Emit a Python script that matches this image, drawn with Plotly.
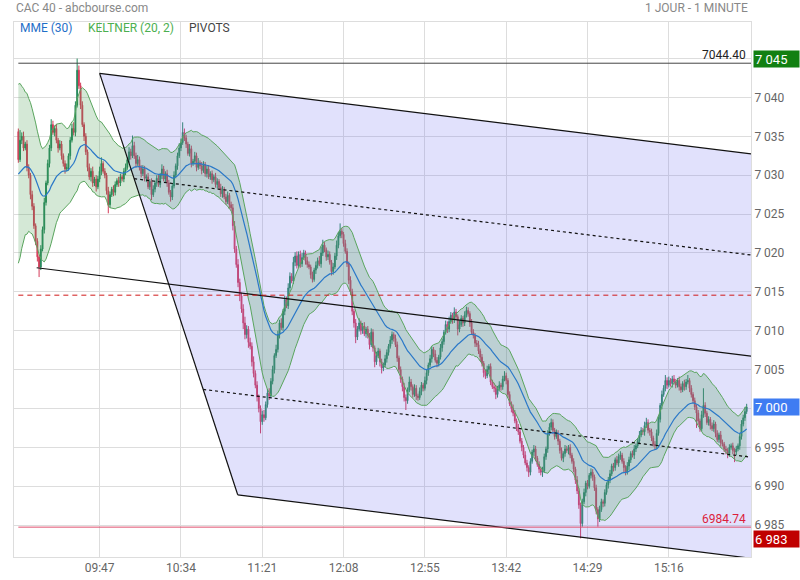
import plotly.graph_objects as go

# ---------------- data ----------------
session_start = "09:00"
first_open = 7035.6
closes = [
    7032.0, 7034.5, 7035.0, 7033.5, 7034.0, 7031.0, 7030.0, 7027.5, 7026.0, 7023.5,
    7021.5, 7019.5, 7018.2, 7020.5, 7023.0, 7026.5, 7029.0, 7031.5, 7033.5, 7036.5,
    7035.5, 7036.0, 7034.5, 7033.5, 7034.0, 7032.5, 7031.5, 7030.8, 7031.0, 7032.5,
    7034.5, 7036.0, 7035.5, 7039.0, 7043.5, 7041.5, 7039.0, 7036.5, 7035.0, 7033.0,
    7031.0, 7029.8, 7030.5, 7029.0, 7029.5, 7028.5, 7029.5, 7030.5, 7031.5, 7030.5,
    7030.0, 7028.0, 7026.2, 7027.5, 7028.2, 7027.8, 7028.8, 7029.3, 7029.0, 7029.8,
    7029.5, 7030.5, 7031.0, 7032.0, 7033.0, 7032.5, 7033.8, 7032.5, 7031.5, 7032.0,
    7031.0, 7030.2, 7030.8, 7029.6, 7029.8, 7028.5, 7029.2, 7027.5, 7028.2, 7029.0,
    7029.6, 7028.8, 7030.0, 7030.8, 7029.5, 7030.2, 7029.0, 7027.8, 7027.2, 7028.6,
    7030.0, 7031.2, 7032.5, 7033.5, 7034.2, 7035.5, 7034.8, 7034.0, 7032.8, 7033.4,
    7031.5, 7031.8, 7032.5, 7031.0, 7031.6, 7031.2, 7030.6, 7031.4, 7030.2, 7030.8,
    7029.8, 7030.2, 7029.4, 7029.8, 7028.8, 7029.2, 7028.4, 7027.6, 7028.2, 7027.2,
    7026.6, 7027.4, 7026.2, 7025.8, 7023.5, 7020.5, 7018.5, 7016.2, 7014.5, 7012.8,
    7011.0, 7009.5, 7010.2, 7008.5, 7008.0, 7006.0, 7004.5, 7003.0, 7001.5, 7000.0,
    6998.3, 6999.2, 6998.8, 7000.5, 7002.0, 7001.6, 7003.5, 7005.0, 7006.8, 7007.6,
    7009.5, 7011.0, 7010.4, 7012.5, 7014.0, 7013.2, 7015.5, 7017.0, 7016.4, 7018.8,
    7019.6, 7018.4, 7019.8, 7018.6, 7019.4, 7020.0, 7019.0, 7018.5, 7018.2, 7017.2,
    7016.6, 7017.8, 7018.4, 7019.0, 7018.6, 7020.0, 7021.0, 7020.4, 7019.5, 7019.8,
    7018.8, 7017.6, 7018.2, 7019.6, 7021.0, 7022.2, 7022.8, 7022.4, 7021.2, 7020.2,
    7018.6, 7016.5, 7015.0, 7012.5, 7011.0, 7009.2, 7010.2, 7011.0, 7010.0, 7010.6,
    7009.6, 7010.2, 7009.4, 7008.2, 7009.8, 7007.8, 7006.0, 7006.8, 7007.4, 7006.0,
    7005.2, 7005.6, 7006.4, 7007.2, 7008.0, 7008.8, 7009.5, 7009.0, 7008.2, 7006.5,
    7005.0, 7003.8, 7002.8, 7001.4, 7001.0, 7002.4, 7003.4, 7002.8, 7001.8, 7002.6,
    7001.6, 7001.4, 7002.2, 7003.0, 7002.6, 7003.6, 7004.6, 7005.6, 7006.4, 7007.6,
    7007.0, 7006.2, 7005.8, 7006.6, 7007.8, 7008.6, 7009.8, 7010.8, 7010.2, 7011.2,
    7012.0, 7011.4, 7012.4, 7011.8, 7010.2, 7010.8, 7011.6, 7011.0, 7012.0, 7012.6,
    7012.2, 7011.0, 7009.8, 7009.4, 7008.4, 7008.2, 7007.4, 7006.6, 7005.8, 7004.6,
    7004.2, 7005.0, 7005.4, 7003.4, 7002.8, 7002.6, 7001.8, 7002.6, 7003.0, 7002.8,
    7003.8, 7004.2, 7003.6, 7001.8, 7000.6, 7000.0, 6999.4, 6998.4, 6997.6, 6997.0,
    6995.8, 6995.0, 6994.0, 6993.0, 6992.4, 6991.8, 6993.2, 6994.4, 6994.8, 6993.6,
    6992.8, 6992.2, 6991.8, 6992.0, 6993.8, 6994.8, 6996.8, 6997.6, 6998.2, 6997.2,
    6996.4, 6996.8, 6995.8, 6994.6, 6993.6, 6994.2, 6994.8, 6994.6, 6995.0, 6994.0,
    6993.2, 6992.2, 6990.8, 6989.4, 6987.6, 6985.2, 6988.0, 6989.2, 6990.4, 6990.0,
    6991.4, 6991.8, 6991.2, 6989.8, 6987.0, 6985.8, 6987.0, 6988.0, 6987.8, 6989.2,
    6990.2, 6990.8, 6991.6, 6992.6, 6992.4, 6993.4, 6993.0, 6993.8, 6994.0, 6993.2,
    6992.4, 6991.8, 6992.6, 6993.4, 6994.2, 6994.0, 6994.8, 6995.2, 6995.8, 6996.6,
    6997.2, 6997.0, 6997.8, 6998.2, 6997.2, 6997.0, 6996.2, 6995.4, 6995.2, 6996.8,
    6998.6, 7000.4, 7001.8, 7002.6, 7003.6, 7003.0, 7003.6, 7003.2, 7003.8, 7003.4,
    7003.0, 7003.6, 7002.8, 7002.4, 7003.2, 7002.8, 7003.4, 7003.6, 7002.6, 7001.8,
    7001.0, 7000.2, 6999.4, 6998.4, 6997.4, 6999.2, 7000.4, 6999.4, 6998.2, 6998.6,
    6997.8, 6997.4, 6998.0, 6996.8, 6996.0, 6996.6, 6995.6, 6995.4, 6994.8, 6994.6,
    6994.2, 6995.0, 6995.2, 6994.6, 6994.4, 6994.8, 6995.2, 6996.4, 6998.0, 6998.8,
    6999.6, 7000.2,
]
upper_wicks = [
    .4, 1.3, .5, .6, .3, .5, .4, .3, .5, .4,
    .3, .4, .3, .5, .4, .6, .3, .5, .4, .7,
    .5, .4, .6, .3, .5, .4, .3, .4, .5, .3,
    .4, .6, .8, .5, 1.5, .6, .4, .5, .3, .4,
    .3, .5, .4, .6, .3, .5, .4, .6, .8, .3,
    .4, .3, .5, .4, .3, .5, .4, .3, .5, .4,
    .3, .4, .5, .3, .6, .4, 1.3, .5, .4, .6,
    .4, .3, .5, .4, .3, .5, .3, .4, .5, .3,
    .4, .5, .3, .6, .4, .3, .5, .4, .3, .4,
    .5, .3, .4, .6, .5, 1.3, .5, .4, .3, .6,
    .4, .3, .5, .4, .6, .3, .5, .4, .3, .4,
    .5, .3, .4, .3, .5, .4, .3, .5, .4, .3,
    .4, .5, .3, .4, .5, .6, .4, .7, .5, .4,
    .6, .8, .5, .4, .6, .5, .7, .4, .5, .3,
    .4, .5, .6, .4, .5, .6, .4, .5, .3, .6,
    .5, .4, .6, .3, .5, .4, .6, .5, .4, .7,
    .5, .6, .4, .5, .6, .4, .3, .5, .4, .3,
    .4, .3, .5, .4, .6, .8, .7, .4, .3, .5,
    .4, .3, .5, .4, .6, .5, 1.0, .4, .3, .5,
    .4, .3, .5, .4, .3, .5, .4, .6, .3, .4,
    .5, .3, .4, .3, .5, .4, .3, .5, .4, .3,
    .4, .3, .5, .4, .3, .5, .4, .3, .5, .4,
    .3, .4, .3, .5, .4, .3, .7, .4, .3, .5,
    .4, .3, .5, .4, .3, .5, .4, .3, .5, .4,
    .3, .5, .4, .3, .5, .4, .3, .5, .4, .6,
    .4, .3, .6, .4, .3, .5, .4, .3, .5, .5,
    .4, .3, .5, .4, .3, .4, .5, .3, .4, .3,
    .4, .5, .3, .4, .3, .5, .4, .3, .5, .3,
    .4, .6, .4, .3, .4, .3, .5, .4, .3, .4,
    .3, .4, .3, .5, .4, .3, .4, .3, .5, .4,
    .3, .4, .3, .5, .4, .3, .4, .5, .5, .4,
    .3, .5, .4, .3, .4, .3, .5, .4, .3, .4,
    .3, .4, .3, .5, .4, .3, .4, .5, .3, .4,
    .3, .5, .4, .3, .4, .3, .5, .4, .3, .4,
    .3, .4, .5, .3, .4, .3, .5, .4, .5, .3,
    .4, .3, .5, .4, .3, .4, .5, .3, .4, .5,
    .4, .3, .5, .6, .4, .3, .4, .3, .4, .5,
    .4, .3, .5, .4, .7, .4, .5, .3, .4, .5,
    .4, .3, .5, .4, .3, .5, .4, .7, .3, .4,
    .3, .4, .3, .4, .3, .5, 2.2, .4, .3, .4,
    .3, .4, .5, .3, .4, .3, .5, .4, .3, .4,
    .3, .4, .3, .4, .3, .4, .3, .4, .5, .4,
    .6, .4,
]
lower_wicks = [
    .4, .3, .5, .4, .3, .5, .4, .6, .5, .4,
    .5, .6, 1.3, .4, .3, .5, .4, .3, .5, .4,
    .3, .5, .4, .6, .3, .5, .4, .6, .3, .4,
    .5, .3, .4, .5, .3, .4, .5, .3, .6, .4,
    .5, .4, .6, .5, .4, .6, .3, .4, .5, .3,
    .4, .5, 1.1, .4, .3, .5, .4, .3, .5, .4,
    .3, .4, .5, .3, .4, .5, .3, .4, .5, .3,
    .4, .5, .3, .4, .5, .3, .4, .7, .3, .4,
    .5, .3, .4, .5, .3, .4, .5, .3, .6, .4,
    .3, .4, .5, .3, .4, .3, .4, .5, .3, .4,
    .5, .3, .4, .5, .3, .4, .5, .3, .4, .5,
    .3, .4, .5, .3, .4, .5, .3, .4, .5, .3,
    .4, .3, .5, .4, .6, .5, .4, .6, .7, .5,
    .8, .6, .5, .7, .4, .6, .5, .4, .6, .5,
    1.5, .4, .5, .3, .4, .5, .3, .4, .5, .3,
    .4, .5, .3, .4, .5, .3, .4, .5, .3, .4,
    .5, .4, .3, .5, .4, .3, .5, .4, .3, .5,
    .4, .3, .5, .4, .3, .5, .4, .3, .5, .4,
    .3, .5, .4, .3, .5, .4, .3, .5, .4, .3,
    .4, .5, .4, .5, .6, .8, .4, .3, .5, .4,
    .3, .5, .4, .6, .3, .5, .7, .4, .3, .6,
    .7, .4, .3, .5, .4, .3, .5, .4, .3, .5,
    .4, .5, .6, .5, 1.2, .4, .3, .5, .4, .3,
    .5, .4, .3, .5, .4, .3, .5, .4, .3, .5,
    .4, .3, .5, .4, .3, .5, .4, .3, .5, .4,
    .3, .5, .4, .3, .8, .4, .3, .5, .4, .3,
    .4, .5, .3, .4, .5, .3, .4, .5, .4, .6,
    .4, .3, .5, .4, .3, .5, .6, .4, .3, .5,
    .4, .3, .5, .4, .3, .5, .4, .3, .5, .4,
    .3, .5, .4, .3, .5, .6, .4, .3, .5, .4,
    .3, .5, .4, .6, .3, .4, .5, .3, .4, .5,
    .4, .3, .5, .4, .3, .5, .4, .3, .5, .4,
    .3, .4, .5, .4, .5, 1.9, .4, .3, .5, .4,
    .3, .4, .5, .4, .6, 1.0, .4, .3, .5, .4,
    .3, .5, .4, .3, .5, .4, .3, .5, .4, .3,
    .6, .4, .3, .5, .4, .3, .5, .4, .3, .4,
    .3, .4, .5, .3, .4, .5, .4, .3, .5, .4,
    .3, .4, .5, .3, .4, .5, .3, .4, .5, .3,
    .4, .3, .5, .4, .3, .5, .4, .3, .5, .4,
    .3, .4, 1.9, .5, .4, .3, .4, .5, .3, .4,
    .5, .3, .4, .5, .3, .4, .5, .3, .4, .5,
    .6, .4, .3, .5, 1.3, .4, .3, .5, .4, .3,
    .4, .3,
]
time_ticks = ["09:47", "10:34", "11:21", "12:08", "12:55", "13:42", "14:29", "15:16"]
price_ticks = [6985, 6990, 6995, 7000, 7005, 7010, 7015, 7020, 7025, 7030, 7035, 7040, 7045]

# indicator settings (seeds = values carried over from the previous session)
ema_period = 30
kc_period = 20
kc_mult = 2
ema_seed = 7030.0
atr_seed = 5.9

# pitchfork anchors (minutes after session start, price)
fork_t = [10.6, 47.0, 126.8]
fork_p = [7018.1, 7043.1, 6988.9]

# pivot levels: R1, P, S1
pivot_levels = [7044.40, 7014.57, 6984.74]

x_range = [-2.5, 423.5]
y_range = [6980.9, 7049.7]

# ---------------- derived ----------------
n = len(closes)
xs = list(range(n))
opens = [first_open] + closes[:-1]
highs = [max(o, c) + u for o, c, u in zip(opens, closes, upper_wicks)]
lows = [min(o, c) - w for o, c, w in zip(opens, closes, lower_wicks)]


def hm_to_min(s):
    h, m = s.split(":")
    h0, m0 = session_start.split(":")
    return (int(h) * 60 + int(m)) - (int(h0) * 60 + int(m0))


tick_pos = [hm_to_min(t) for t in time_ticks]

# EMA 30
a30 = 2 / (ema_period + 1)
ema = []
e = ema_seed
for c in closes:
    e += a30 * (c - e)
    ema.append(e)

# Keltner (20, 2)
a20 = 2 / (kc_period + 1)
mid = ema_seed
atr = atr_seed
kc_up, kc_lo = [], []
prev_c = first_open
for h, l, c in zip(highs, lows, closes):
    tr = max(h - l, abs(h - prev_c), abs(l - prev_c))
    atr += a20 * (tr - atr)
    mid += a20 * (c - mid)
    kc_up.append(mid + kc_mult * atr)
    kc_lo.append(mid - kc_mult * atr)
    prev_c = c

# pitchfork geometry
t_end = x_range[1]
(tA, tB, tC), (pA, pB, pC) = fork_t, fork_p
tM, pM = (tB + tC) / 2, (pB + pC) / 2
slope = (pM - pA) / (tM - tA)


def ray(t0, p0):
    return [t0, t_end], [p0, p0 + slope * (t_end - t0)]


top_x, top_y = ray(tB, pB)
bot_x, bot_y = ray(tC, pC)
med_x, med_y = ray(tA, pA)
q1t, q1p = tB + 0.25 * (tC - tB), pB + 0.25 * (pC - pB)
q3t, q3p = tB + 0.75 * (tC - tB), pB + 0.75 * (pC - pB)
w1_x, w1_y = ray(q1t, q1p)
w3_x, w3_y = ray(q3t, q3p)

fig = go.Figure()

# pitchfork shaded area
fig.add_trace(go.Scatter(
    x=[tB, top_x[1], bot_x[1], tC, tB], y=[pB, top_y[1], bot_y[1], pC, pB],
    mode="none", fill="toself", fillcolor="rgba(120,120,240,0.22)",
    hoverinfo="skip", showlegend=False))

# Keltner channel
fig.add_trace(go.Scatter(x=xs, y=kc_up, mode="lines",
                         line=dict(color="#5aa55e", width=1), hoverinfo="skip", showlegend=False))
fig.add_trace(go.Scatter(x=xs, y=kc_lo, mode="lines", fill="tonexty",
                         fillcolor="rgba(60,150,70,0.22)",
                         line=dict(color="#5aa55e", width=1), hoverinfo="skip", showlegend=False))

# candles
fig.add_trace(go.Candlestick(
    x=xs, open=opens, high=highs, low=lows, close=closes,
    increasing=dict(line=dict(color="#24875a", width=1), fillcolor="#2a9463"),
    decreasing=dict(line=dict(color="#d43a58", width=1), fillcolor="#e5435f"),
    whiskerwidth=0, hoverinfo="skip", showlegend=False))

# EMA
fig.add_trace(go.Scatter(x=xs, y=ema, mode="lines",
                         line=dict(color="#2a78c8", width=1.2), hoverinfo="skip", showlegend=False))

# pitchfork lines
for lx, ly, dash in [(top_x, top_y, "solid"), (med_x, med_y, "solid"), (bot_x, bot_y, "solid"),
                     ([tB, tC], [pB, pC], "solid"),
                     (w1_x, w1_y, "3px,3px"), (w3_x, w3_y, "3px,3px")]:
    fig.add_trace(go.Scatter(x=lx, y=ly, mode="lines",
                             line=dict(color="#111111", width=1.2, dash=dash),
                             hoverinfo="skip", showlegend=False))

# pivot lines
pivot_styles = [("#444444", "solid"), ("#d01818", "5px,4px"), ("#e0506e", "solid")]
for lvl, (col, dash) in zip(pivot_levels, pivot_styles):
    fig.add_trace(go.Scatter(x=[0, t_end], y=[lvl, lvl], mode="lines",
                             line=dict(color=col, width=1, dash=dash),
                             hoverinfo="skip", showlegend=False))

annotations = []
# pivot labels (R1 and S1)
for lvl, col in [(pivot_levels[0], "#222222"), (pivot_levels[2], "#dc1e3c")]:
    annotations.append(dict(x=t_end - 1.5, y=lvl, xref="x", yref="y", text=f"{lvl:.2f}",
                            showarrow=False, xanchor="right", yanchor="bottom",
                            font=dict(size=12, color=col), yshift=-1))

# right axis boxes: high, last, low
fmt = lambda v: f"{round(v):,}".replace(",", " ")
last = closes[-1]
boxes = [(max(highs), "#128012", 0), (last, "#3f7cf2", 0), (min(lows), "#c00000", 1)]
for val, bg, shift in boxes:
    annotations.append(dict(x=1.0027, y=val, xref="paper", yref="y", text=fmt(val),
                            showarrow=False, xanchor="left", yanchor="middle",
                            align="left", width=43, height=14, bgcolor=bg, borderpad=1,
                            yshift=-shift, font=dict(size=13, color="white")))

# tick labels hidden behind a price box are left blank
price_text = ["" if any(abs(p - b[0]) < 1.5 for b in boxes) else fmt(p) for p in price_ticks]

# titles / legend texts
annotations += [
    dict(x=0, y=1.026, xref="paper", yref="paper", text="CAC 40 - abcbourse.com",
         showarrow=False, xanchor="left", yanchor="middle", font=dict(size=12, color="#888888")),
    dict(x=0.9986, y=1.026, xref="paper", yref="paper", text="1 JOUR - 1 MINUTE",
         showarrow=False, xanchor="right", yanchor="middle", font=dict(size=12, color="#888888")),
    dict(x=0.006, y=0.988, xref="paper", yref="paper", text=f"MME ({ema_period})",
         showarrow=False, xanchor="left", yanchor="middle", font=dict(size=12, color="#1f6fc8")),
    dict(x=0.098, y=0.988, xref="paper", yref="paper", text=f"KELTNER ({kc_period}, {kc_mult})",
         showarrow=False, xanchor="left", yanchor="middle", font=dict(size=12, color="#4caf50")),
    dict(x=0.235, y=0.988, xref="paper", yref="paper", text="PIVOTS",
         showarrow=False, xanchor="left", yanchor="middle", font=dict(size=12, color="#444444")),
]

fig.update_layout(
    width=800, height=580, autosize=False,
    margin=dict(l=14, r=49, t=22, b=23, autoexpand=False),
    paper_bgcolor="white", plot_bgcolor="white",
    font=dict(family="Roboto, Arial, sans-serif", size=12, color="#666666"),
    showlegend=False,
    annotations=annotations,
    xaxis=dict(range=x_range, tickvals=tick_pos, ticktext=time_ticks, automargin=False,
               showgrid=True, gridcolor="#dddddd", gridwidth=1, zeroline=False,
               showline=True, linecolor="#dddddd", mirror=True, ticks="",
               rangeslider=dict(visible=False), tickfont=dict(size=12, color="#666666")),
    yaxis=dict(range=y_range, side="right", tickvals=price_ticks, ticktext=price_text,
               automargin=False,
               showgrid=True, gridcolor="#dddddd", gridwidth=1, zeroline=False,
               showline=True, linecolor="#dddddd", mirror=True, ticks="",
               tickfont=dict(size=12, color="#666666")),
)

# remove the default page margin so the 800x580 figure fills the window exactly
fig.write_html("out.html", config={"displayModeBar": False, "responsive": False},
               post_script="document.body.style.margin='0px';")
